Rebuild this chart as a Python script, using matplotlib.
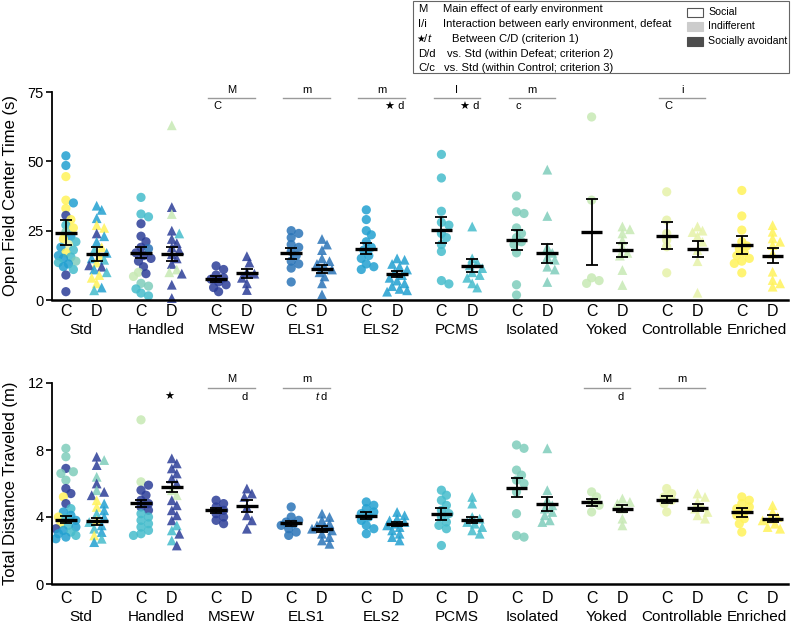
import numpy as np
import matplotlib
matplotlib.use('Agg')
import matplotlib.pyplot as plt
from matplotlib.patches import Rectangle
from matplotlib.transforms import blended_transform_factory

plt.rcParams['font.family'] = ['Liberation Sans', 'DejaVu Sans']

# ---------------- data ----------------
groups = ['Std', 'Handled', 'MSEW', 'ELS1', 'ELS2', 'PCMS', 'Isolated', 'Yoked', 'Controllable', 'Enriched']
conds = ['C', 'D']

# cohort colours (YlGnBu-like)
palette = ['#2c3e98', '#2b75b8', '#22a0d0', '#45bccc', '#7fcdbb', '#c7e9b4', '#e6f2a8', '#fff35a']
group_cohort = [None, None, 0, 1, 2, 3, 4, 5, 6, 7]

# ---- Open field centre time (s) ----
oft_C = [
    [52, 48.5, 44.5, 36, 35, 33, 30.5, 29, 27, 26, 24.5, 23, 22, 21, 20, 19, 18, 17, 16, 15.5, 15, 14, 13.5, 13, 12, 11, 9, 3],
    [37, 31, 30, 27.5, 23, 21, 19, 18.5, 17, 16, 15, 14, 12, 10, 9.5, 8.5, 6, 5, 4, 2.5, 1.5],
    [12.3, 11, 9, 8, 7.5, 6.5, 5.5, 4.5, 3],
    [25, 24, 22.5, 20, 19, 17.5, 16, 14, 13, 11.5, 6.5],
    [32.5, 29, 25, 23.5, 21, 19, 18, 16, 15, 13, 12, 11],
    [52.5, 44, 32, 28, 27, 24, 22.5, 20, 17.5, 7, 5.8],
    [37.5, 31.8, 31.2, 26, 24, 22.5, 21, 20, 17, 5.5, 1.8],
    [66, 36, 8, 7, 6],
    [39, 28.8, 24, 21.6, 19.2, 9.8],
    [39.5, 30.3, 25.2, 21, 19.5, 18.5, 17, 16, 15, 14, 13.2, 9.8],
]
oft_D = [
    [34, 32.5, 29.5, 27, 26, 24, 23, 21, 19, 18, 17, 16, 15, 14.5, 13.5, 12.5, 12, 11, 10, 9, 8, 6, 4.5, 3.5],
    [63, 33.5, 31, 25, 24, 22, 20.5, 19, 18, 16.5, 15, 13, 11, 10, 9.5, 5.5, 0.7],
    [15.8, 13.5, 10, 9.5, 8, 6, 3.6],
    [22, 20, 18, 15, 14, 13, 12, 11, 10, 8.5, 6, 2],
    [15, 14.5, 13, 12, 11, 10, 9, 8, 7, 6, 5, 4, 3.5, 3],
    [26.5, 15, 13.5, 12.5, 11.5, 10, 9, 8, 6, 4.5],
    [47, 30.3, 19, 17, 15.5, 14.5, 12, 11, 6.5],
    [26.5, 25.5, 24, 21.5, 19, 17, 16, 10.8, 5.4],
    [26.5, 25, 24.5, 23, 21, 18, 14, 2.6],
    [27, 24.6, 22.2, 21, 19.8, 16.8, 10.2, 7.2, 6, 4.8],
]
oft_cohort_C = {0: [2, 2, 7, 7, 2, 7, 0, 7, 3, 7, 4, 2, 7, 3, 6, 2, 3, 7, 2, 3, 2, 4, 3, 2, 2, 3, 0, 0],
                1: [3, 3, 3, 0, 0, 0, 0, 1, 0, 0, 0, 0, 0, 5, 0, 5, 4, 4, 3, 3, 3]}
oft_cohort_D = {0: [2, 2, 2, 7, 7, 0, 2, 2, 7, 3, 2, 7, 2, 3, 7, 0, 0, 2, 3, 7, 7, 7, 2, 3],
                1: [5, 0, 5, 0, 3, 0, 0, 0, 0, 0, 0, 0, 5, 5, 0, 0, 0]}
oft_mean_C = [24.2, 17.1, 7.5, 16.8, 18.5, 25.1, 21.5, 24.4, 23.2, 19.8]
oft_sem_C = [4.5, 2.1, 1.0, 2.0, 2.0, 4.7, 3.6, 11.9, 4.8, 3.3]
oft_mean_D = [16.5, 16.7, 9.6, 11.2, 9.4, 12.4, 16.8, 18.0, 18.4, 16.0]
oft_sem_D = [2.5, 2.5, 1.5, 1.6, 1.1, 2.4, 3.5, 2.4, 3.0, 2.8]

# ---- Total distance travelled (m) ----
dist_C = [
    [8.1, 7.6, 6.9, 6.7, 6.6, 6.2, 5.7, 5.4, 5.2, 4.8, 4.5, 4.3, 4.1, 4.0, 3.9, 3.8, 3.6, 3.5, 3.4, 3.3, 3.2, 3.1, 3.0, 2.9, 2.8, 2.7],
    [9.8, 6.1, 5.9, 5.6, 5.3, 5.0, 4.8, 4.6, 4.4, 4.2, 4.0, 3.8, 3.6, 3.4, 3.2, 3.0, 2.9],
    [5.0, 4.8, 4.6, 4.4, 4.2, 4.0, 3.8, 3.6],
    [4.6, 4.0, 3.8, 3.7, 3.6, 3.5, 3.3, 3.1, 2.9],
    [4.9, 4.7, 4.5, 4.3, 4.2, 4.0, 3.8, 3.5, 3.3, 3.0],
    [5.6, 5.3, 5.0, 4.7, 4.4, 4.2, 4.0, 3.7, 3.5, 3.3, 2.3],
    [8.3, 8.1, 6.8, 6.5, 6.2, 6.0, 5.5, 4.2, 2.9, 2.8],
    [5.5, 5.2, 4.9, 4.7, 4.3],
    [5.7, 5.4, 5.2, 5.0, 4.8, 4.3],
    [5.2, 5.0, 4.8, 4.6, 4.5, 4.3, 4.1, 3.9, 3.6, 3.1],
]
dist_D = [
    [7.6, 7.4, 7.1, 6.4, 6.0, 5.6, 5.5, 5.3, 5.0, 4.8, 4.6, 4.4, 4.2, 4.0, 3.8, 3.7, 3.5, 3.3, 3.1, 2.9, 2.7, 2.5],
    [7.5, 7.2, 6.9, 6.6, 6.3, 6.0, 5.6, 5.3, 5.0, 4.7, 4.4, 4.1, 3.8, 3.5, 3.2, 3.0, 2.6, 2.3],
    [5.7, 5.4, 5.2, 4.6, 4.1, 3.8, 3.3],
    [4.2, 4.0, 3.8, 3.6, 3.5, 3.4, 3.3, 3.2, 3.0, 2.8, 2.6, 2.4],
    [4.3, 4.1, 3.9, 3.8, 3.7, 3.6, 3.5, 3.4, 3.2, 3.0, 2.8, 2.6],
    [5.2, 4.8, 4.0, 3.9, 3.7, 3.6, 3.4, 3.2, 3.0],
    [8.1, 5.6, 5.0, 4.7, 4.5, 4.3, 4.1, 3.8, 3.7],
    [5.1, 4.9, 4.8, 4.5, 3.9, 3.5],
    [5.4, 5.2, 4.9, 4.6, 4.5, 4.3, 4.1, 3.9],
    [4.7, 4.3, 4.0, 3.9, 3.8, 3.6, 3.4, 3.3],
]
dist_cohort_C = {0: [4, 4, 0, 4, 4, 4, 0, 0, 7, 0, 3, 2, 2, 7, 3, 2, 7, 3, 2, 0, 2, 3, 2, 3, 2, 2],
                 1: [5, 5, 0, 0, 0, 0, 0, 0, 0, 3, 3, 3, 3, 3, 3, 3, 3]}
dist_cohort_D = {0: [0, 4, 0, 4, 0, 4, 0, 0, 7, 2, 7, 2, 3, 2, 7, 3, 2, 3, 2, 7, 3, 2],
                 1: [0, 0, 0, 0, 0, 0, 5, 5, 0, 0, 0, 0, 0, 3, 3, 0, 3, 0]}
dist_mean_C = [3.83, 4.81, 4.40, 3.63, 4.08, 4.18, 5.76, 4.87, 5.03, 4.28]
dist_sem_C = [0.20, 0.22, 0.14, 0.15, 0.20, 0.33, 0.55, 0.20, 0.22, 0.28]
dist_mean_D = [3.75, 5.80, 4.67, 3.29, 3.59, 3.83, 4.77, 4.50, 4.56, 3.90]
dist_sem_D = [0.20, 0.30, 0.35, 0.17, 0.10, 0.19, 0.40, 0.19, 0.23, 0.22]

# statistics annotations
oft_bracket = ['', '', 'M', 'm', 'm', 'I', 'm', '', 'i', '']
oft_note_C = ['', '', 'C', '', '', '', 'c', '', 'C', '']
oft_note_D = ['', '', '', '', '★ d', '★ d', '', '', '', '']
dist_bracket = ['', '', 'M', 'm', '', '', '', 'M', 'm', '']
dist_note_C = ['', '', '', '', '', '', '', '', '', '']
dist_note_D = ['', '★', 'd', 't d', '', '', '', 'd', '', '']

legend_keys = ['M', 'I/i', '★/t', 'D/d', 'C/c']
legend_desc = ['Main effect of early environment',
               'Interaction between early environment, defeat',
               'Between C/D (criterion 1)',
               'vs. Std (within Defeat; criterion 2)',
               'vs. Std (within Control; criterion 3)']
class_labels = ['Social', 'Indifferent', 'Socially avoidant']
class_colors = ['white', '#cccccc', '#4d4d4d']

# ---------------- layout ----------------
W, H = 800, 630
fig = plt.figure(figsize=(8, 6.3), dpi=100)
DX = 0.205
XLIM = (-0.39, 9.41)


def swarm_x(ax, x0, vals, min_px=6.5, step_px=2.5, max_px=10.0):
    p0 = ax.transData.transform((0, 0))
    p1 = ax.transData.transform((1, 1))
    sx, sy = p1[0] - p0[0], p1[1] - p0[1]
    vals = np.asarray(vals, float)
    order = np.argsort(-vals)
    cands = [0.0]
    k = 1
    while k * step_px <= max_px:
        cands += [k * step_px, -k * step_px]
        k += 1
    placed = []
    offs = np.zeros(len(vals))
    for i in order:
        yp = vals[i] * sy
        best_c, best_d = 0.0, -1
        chosen = None
        for c in cands:
            d = min([np.hypot(c - ox, yp - oy) for ox, oy in placed], default=1e9)
            if d >= min_px:
                chosen = c
                break
            if d > best_d:
                best_d, best_c = d, c
        if chosen is None:
            chosen = best_c
        offs[i] = chosen
        placed.append((chosen, yp))
    return x0 + offs / sx


def note(ax, x, y, txt, fs=8):
    # a leading 't ' is drawn in italics
    if txt.startswith('t '):
        ax.text(x - 0.015, y, 't', ha='right', va='center', fontsize=fs, fontstyle='italic')
        ax.text(x + 0.015, y, txt[2:], ha='left', va='center', fontsize=fs)
    else:
        ax.text(x, y, txt, ha='center', va='center', fontsize=fs)


def panel(ax, valsC, valsD, cohC, cohD, meanC, semC, meanD, semD, ylim, yticks, ylabel,
          bracket, noteC, noteD, brk_y, above_y, below_y, lab_off, name_off):
    ax.set_xlim(*XLIM)
    ax.set_ylim(*ylim)
    for side in ['top', 'right']:
        ax.spines[side].set_visible(False)
    ax.spines['left'].set_linewidth(1.3)
    ax.spines['bottom'].set_linewidth(1.8)
    ax.set_xticks([])
    ax.set_yticks(yticks)
    ax.tick_params(axis='y', length=4, width=1.2, labelsize=10.5, pad=2)
    ax.set_ylabel(ylabel, fontsize=12)
    ax.yaxis.set_label_coords((18 - 52) / 736, 0.5)
    bt = blended_transform_factory(ax.transData, ax.transAxes)
    for gi, g in enumerate(groups):
        for ci, (vals, coh, marker, s) in enumerate([(valsC[gi], cohC, 'o', 44), (valsD[gi], cohD, '^', 50)]):
            x0 = gi + (-DX if ci == 0 else DX)
            if group_cohort[gi] is None:
                cols = [palette[k] for k in coh[gi]]
            else:
                cols = [palette[group_cohort[gi]]] * len(vals)
            xs = swarm_x(ax, x0, vals)
            ax.scatter(xs, vals, s=s, marker=marker, c=cols, alpha=0.85, linewidths=0,
                       zorder=2, clip_on=False)
        for ci, (m, se) in enumerate([(meanC[gi], semC[gi]), (meanD[gi], semD[gi])]):
            x0 = gi + (-DX if ci == 0 else DX)
            ax.hlines(m, x0 - 0.145, x0 + 0.145, colors='black', linewidth=2.4, zorder=4)
            ax.errorbar([x0], [m], yerr=[se], fmt='none', ecolor='black', elinewidth=1.3,
                        capsize=4.3, capthick=1.3, zorder=4)
            ax.text(x0, lab_off, conds[ci], transform=bt, ha='center', va='center',
                    fontsize=11.5)
        ax.text(gi, name_off, g, transform=bt, ha='center', va='center', fontsize=11)
        if bracket[gi]:
            ax.plot([gi - DX - 0.105, gi + DX + 0.105], [brk_y, brk_y], color='#9a9a9a',
                    lw=1.0, clip_on=False)
            ax.text(gi, above_y, bracket[gi], ha='center', va='center', fontsize=8)
        if noteC[gi]:
            note(ax, gi - DX + 0.02, below_y, noteC[gi])
        if noteD[gi]:
            note(ax, gi + DX - 0.03, below_y, noteD[gi])


ax1 = fig.add_axes([52 / W, 1 - 300 / H, 736 / W, 208 / H])
panel(ax1, oft_C, oft_D, oft_cohort_C, oft_cohort_D, oft_mean_C, oft_sem_C, oft_mean_D, oft_sem_D,
      (0, 75), [0, 25, 50, 75], 'Open Field Center Time (s)',
      oft_bracket, oft_note_C, oft_note_D, 72.7, 75.6, 69.8, -0.055, -0.145)

ax2 = fig.add_axes([52 / W, 1 - 584 / H, 736 / W, 201 / H])
panel(ax2, dist_C, dist_D, dist_cohort_C, dist_cohort_D, dist_mean_C, dist_sem_C, dist_mean_D, dist_sem_D,
      (0, 12), [0, 4, 8, 12], 'Total Distance Traveled (m)',
      dist_bracket, dist_note_C, dist_note_D, 11.7, 12.25, 11.15, -0.072, -0.165)

# ---------------- key box ----------------
LFS = 8.1
RFS = 7.6
fig.add_artist(Rectangle((413 / W, 1 - 73 / H), 376 / W, 72 / H, transform=fig.transFigure,
                         fill=False, ec='#666666', lw=0.8))
row_y = [9, 24, 39, 54, 68]
desc_x = [443, 443, 452, 447, 444]
for k, d, yy, dx in zip(legend_keys, legend_desc, row_y, desc_x):
    if k.endswith('/t'):
        fig.text(416 / W, 1 - yy / H, k[0], ha='left', va='center', fontsize=7)
        fig.text(424 / W, 1 - yy / H, '/', ha='left', va='center', fontsize=LFS)
        fig.text(427.5 / W, 1 - yy / H, 't', ha='left', va='center', fontsize=LFS, fontstyle='italic')
    else:
        fig.text(418 / W, 1 - yy / H, k, ha='left', va='center', fontsize=LFS)
    fig.text(dx / W, 1 - yy / H, d, ha='left', va='center', fontsize=LFS)
for lab, col, yy in zip(class_labels, class_colors, [12, 26, 41]):
    fig.add_artist(Rectangle((687 / W, 1 - (yy + 4.5) / H), 16 / W, 9 / H, transform=fig.transFigure,
                             fc=col, ec='#555555' if col == 'white' else col, lw=0.8))
    fig.text(708 / W, 1 - yy / H, lab, ha='left', va='center', fontsize=RFS)

fig.savefig('out.png', dpi=100)
